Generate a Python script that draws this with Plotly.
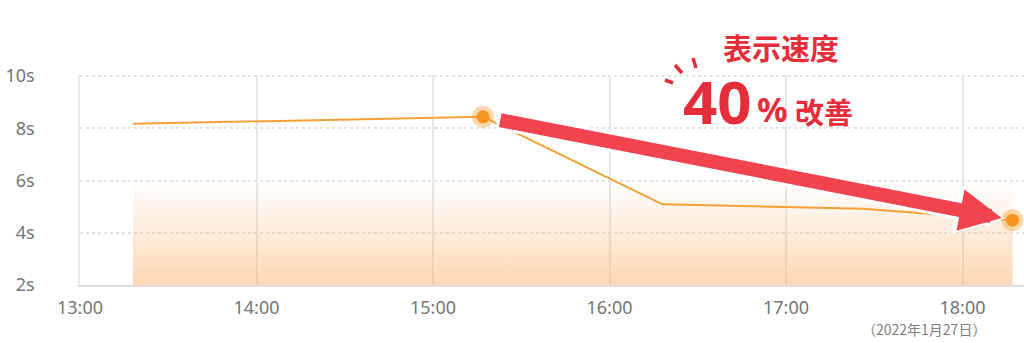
import plotly.graph_objects as go

# ---- data ----
times = ["2022-01-27 13:18", "2022-01-27 15:17", "2022-01-27 16:18",
         "2022-01-27 17:26", "2022-01-27 17:52", "2022-01-27 18:17"]
load_sec = [8.17, 8.44, 5.09, 4.92, 4.70, 4.48]
highlight_idx = [1, 5]
band_low = 2
band_high = 6
y_ticks = [2, 4, 6, 8, 10]
y_tick_labels = ["2s", "4s", "6s", "8s", "10s"]
x_range = ["2022-01-27 13:00", "2022-01-27 18:20:54"]
headline = "表示速度"
big_num = "40"
pct = "%"
improve = "改善"
date_note = "（2022年1月27日）"

W, H = 1024, 343
L, R, T, B = 80, 0, 75, 58
PW, PH = W - L - R, H - T - B


def px(x, y):
    return (x - L) / PW, (H - B - y) / PH


ORANGE = "#f7a035"
RED_TXT = "#e62e3a"
RED_ARROW = "#f2444f"
GRAY = "#767676"

fig = go.Figure()

# gradient band
fig.add_trace(go.Scatter(x=[times[0], times[-1]], y=[band_low, band_low],
                         mode="lines", line=dict(width=0), hoverinfo="skip",
                         showlegend=False))
fig.add_trace(go.Scatter(x=[times[0], times[-1]], y=[band_high, band_high],
                         mode="lines", line=dict(width=0), fill="tonexty",
                         fillgradient=dict(type="vertical", start=band_low, stop=band_high,
                                           colorscale=[[0, "rgba(248,160,80,0.42)"],
                                                       [1, "rgba(248,160,80,0.0)"]]),
                         hoverinfo="skip", showlegend=False))

# line
fig.add_trace(go.Scatter(x=times, y=load_sec, mode="lines",
                         line=dict(color=ORANGE, width=2), showlegend=False))

hx = [times[i] for i in highlight_idx]
hy = [load_sec[i] for i in highlight_idx]
fig.add_trace(go.Scatter(x=hx, y=hy, mode="markers", cliponaxis=False,
                         marker=dict(size=22, color="rgba(247,150,40,0.38)", line=dict(width=0)),
                         showlegend=False))
fig.add_trace(go.Scatter(x=hx, y=hy, mode="markers", cliponaxis=False,
                         marker=dict(size=13, color="#f7961e", line=dict(width=0)),
                         showlegend=False))

annotations = []
# arrow (white outline underneath, then red)
for col, w, s, so, sso in [("white", 20, 0.5, 8, 13), (RED_ARROW, 14, 0.6, 11, 16)]:
    annotations.append(dict(x=hx[1], y=hy[1], ax=hx[0], ay=hy[0],
                            xref="x", yref="y", axref="x", ayref="y",
                            showarrow=True, arrowhead=2, arrowwidth=w, arrowsize=s,
                            arrowcolor=col, standoff=so, startstandoff=sso, text=""))

cx, cy = px(781, 47)
annotations.append(dict(x=cx, y=cy, xref="paper", yref="paper", text=headline,
                        showarrow=False, xanchor="center", yanchor="middle",
                        font=dict(family="Noto Sans CJK JP", size=29, color=RED_TXT, weight="bold")))
cx, cy = px(717, 101)
annotations.append(dict(x=cx, y=cy, xref="paper", yref="paper", text=f"<b>{big_num}</b>",
                        showarrow=False, xanchor="center", yanchor="middle",
                        font=dict(family="Noto Sans", size=60, color=RED_TXT)))
cx, cy = px(772, 109)
annotations.append(dict(x=cx, y=cy, xref="paper", yref="paper", text=f"<b>{pct}</b>",
                        showarrow=False, xanchor="center", yanchor="middle",
                        font=dict(family="Noto Sans", size=34, color=RED_TXT)))
cx, cy = px(824, 111)
annotations.append(dict(x=cx, y=cy, xref="paper", yref="paper", text=improve,
                        showarrow=False, xanchor="center", yanchor="middle",
                        font=dict(family="Noto Sans CJK JP", size=29, color=RED_TXT, weight="bold")))
cx, cy = px(924, 329)
annotations.append(dict(x=cx, y=cy, xref="paper", yref="paper", text=date_note,
                        showarrow=False, xanchor="center", yanchor="middle",
                        font=dict(family="Noto Sans CJK JP", size=14, color="#808080")))

# burst strokes near the "40"
shapes = []
for (x0, y0, x1, y1) in [(665, 80, 673, 83), (675, 65, 682, 73), (693, 58, 696, 68)]:
    a0, b0 = px(x0, y0)
    a1, b1 = px(x1, y1)
    shapes.append(dict(type="line", xref="paper", yref="paper", x0=a0, y0=b0, x1=a1, y1=b1,
                       line=dict(color=RED_TXT, width=3.5)))

fig.update_layout(
    width=W, height=H, margin=dict(l=L, r=R, t=T, b=B),
    paper_bgcolor="white", plot_bgcolor="white",
    annotations=annotations, shapes=shapes,
    font=dict(family="Noto Sans", color=GRAY, size=18),
)
fig.update_xaxes(type="date", range=x_range, tickformat="%H:%M", dtick=3600000,
                 tick0="2022-01-27 13:00", showgrid=True, gridcolor="#e8e8e8", gridwidth=1.5,
                 showline=True, linecolor="#dddddd", linewidth=2, zeroline=False,
                 ticks="", ticklabelstandoff=5, tickfont=dict(size=18, color=GRAY))
fig.update_yaxes(range=[2, 10.04], tickvals=y_ticks, ticktext=y_tick_labels,
                 showgrid=True, gridcolor="#e3e3e3", griddash="dot", gridwidth=1.5,
                 showline=True, linecolor="#ececec", linewidth=1.5, zeroline=False,
                 ticks="", ticklabelstandoff=40, tickfont=dict(size=18, color=GRAY))

fig.write_html("out.html")
